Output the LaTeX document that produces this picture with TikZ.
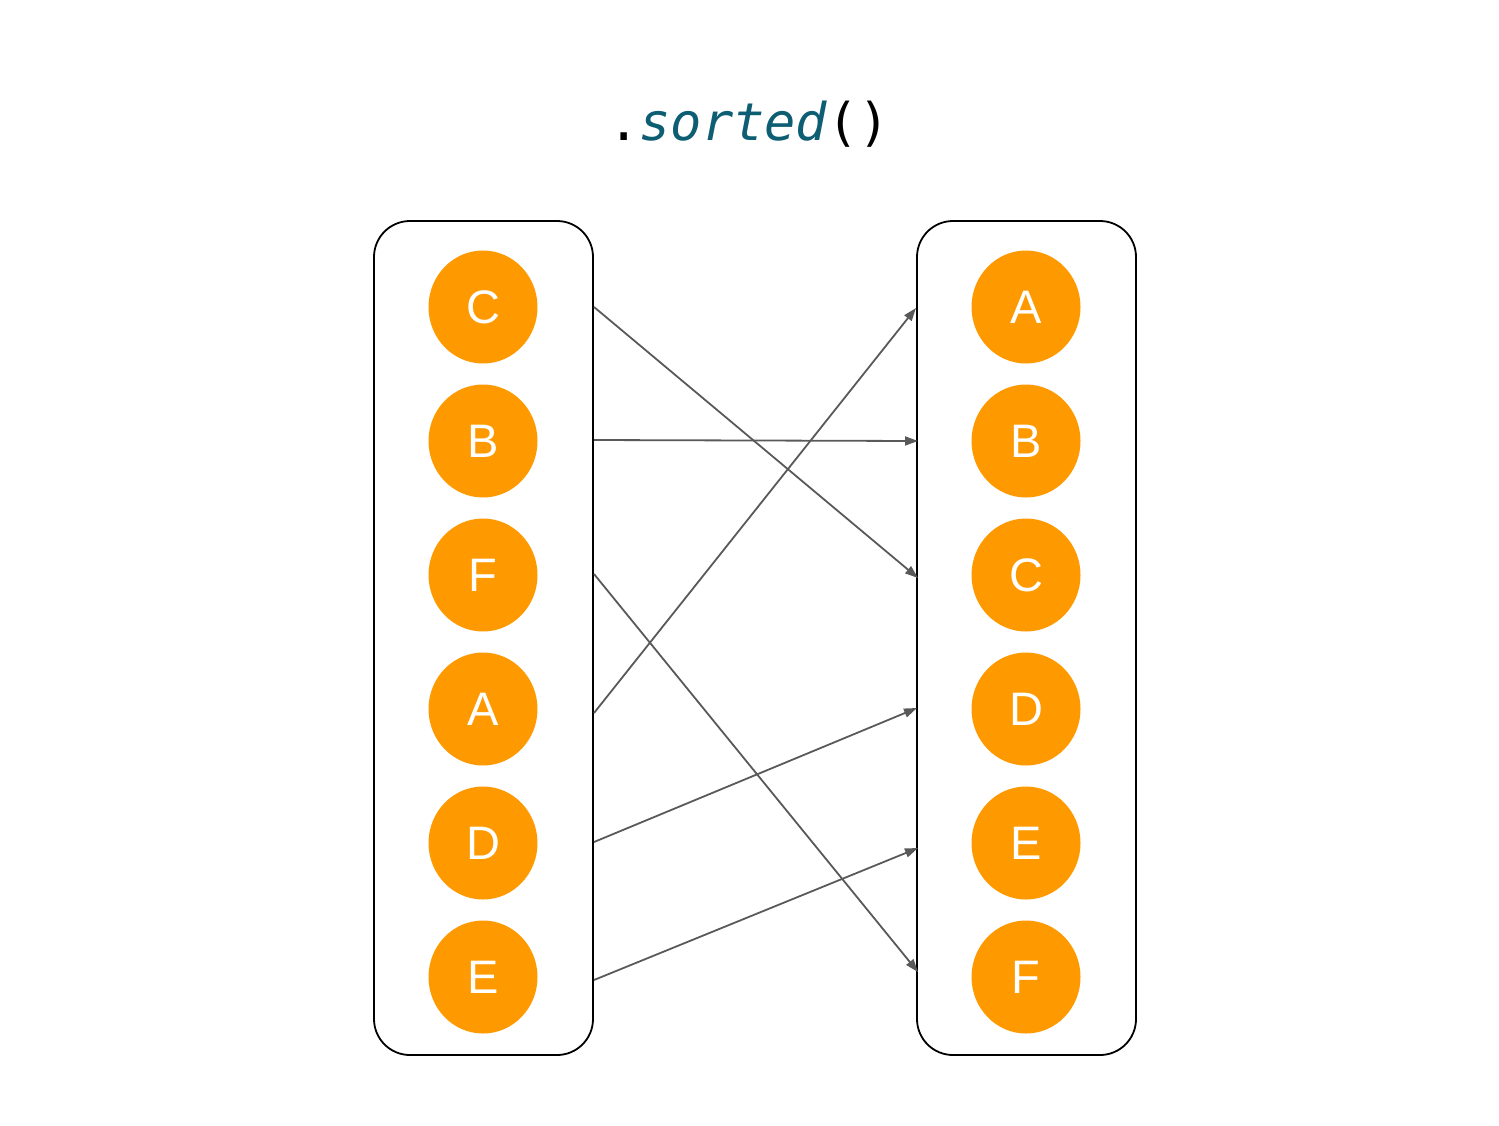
\documentclass[tikz,border=0pt]{standalone}
\usepackage{fontspec}
\setmainfont{Liberation Sans}
\newfontfamily\titlemono{DejaVu Sans Mono}
\usetikzlibrary{shapes.geometric,arrows.meta}
\definecolor{dotorange}{HTML}{FF9900}
\definecolor{titleteal}{HTML}{0E5E73}
\definecolor{linkgray}{HTML}{595959}
\begin{document}
\begin{tikzpicture}[x=1pt,y=-1pt,
  listbox/.style={draw=black,line width=1.8pt,rounded corners=36pt},
  item/.style={ellipse,fill=dotorange,minimum width=109pt,minimum height=113pt,inner sep=0pt,
    text=white,font=\fontsize{47}{47}\selectfont},
  link/.style={draw=linkgray,line width=1.8pt,-{Triangle[length=13pt,width=9pt]}}]
\useasboundingbox (0,0) rectangle (1499,1125);
\node[anchor=base,font=\titlemono\fontsize{52}{52}\selectfont] (title) at (749,140)
  {.\textcolor{titleteal}{\itshape sorted}()};
\draw[listbox] (374,221) rectangle (593,1055);
\draw[listbox] (917,221) rectangle (1136,1055);
\foreach \n/\y in {C/307,B/441,F/575,A/709,D/843,E/977}{
  \node[item] (l\n) at (483,\y) {\n};
}
\foreach \n/\y in {A/307,B/441,C/575,D/709,E/843,F/977}{
  \node[item] (r\n) at (1026,\y) {\n};
}
\coordinate (sC) at (594,307);
\coordinate (sB) at (594,440);
\coordinate (sF) at (594,574);
\coordinate (sA) at (594,713);
\coordinate (sD) at (594,842);
\coordinate (sE) at (594,980);
\coordinate (tA) at (916,308);
\coordinate (tB) at (918,441);
\coordinate (tC) at (918,578);
\coordinate (tD) at (917,708);
\coordinate (tE) at (918,848);
\coordinate (tF) at (918,972);
\draw[link] (sC) -- (tC);
\draw[link] (sB) -- (tB);
\draw[link] (sF) -- (tF);
\draw[link] (sA) -- (tA);
\draw[link] (sD) -- (tD);
\draw[link] (sE) -- (tE);
\end{tikzpicture}
\end{document}
